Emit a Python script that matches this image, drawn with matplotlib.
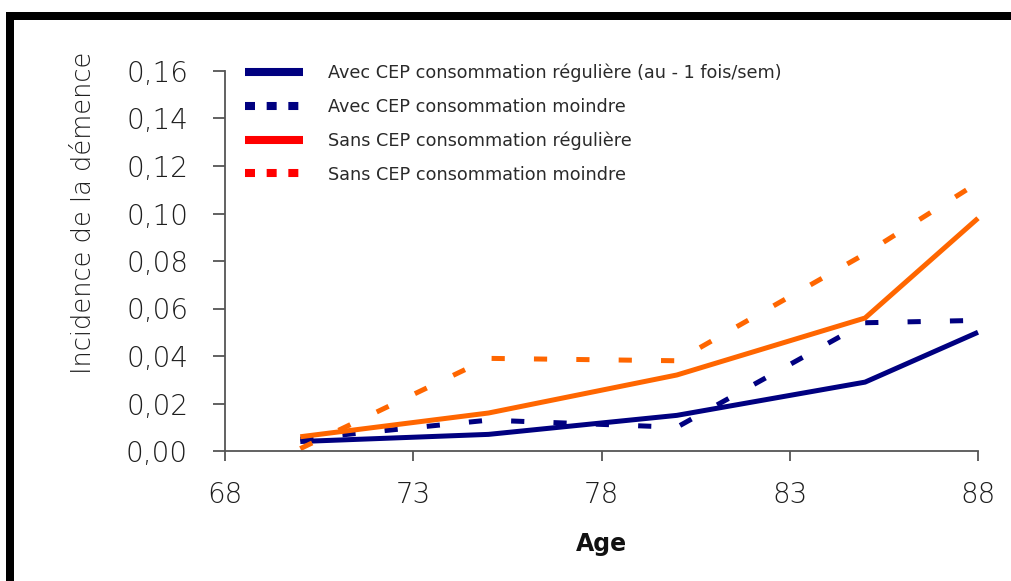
import matplotlib
matplotlib.use('Agg')
import matplotlib.pyplot as plt
from matplotlib.lines import Line2D
from matplotlib.patches import Rectangle

plt.rcParams['font.family'] = ['DejaVu Sans']
plt.rcParams['lines.scale_dashes'] = False

# data
ages = [70, 75, 80, 85, 88]
avec_reguliere = [0.004, 0.007, 0.015, 0.029, 0.050]
avec_moindre = [0.005, 0.013, 0.010, 0.054, 0.055]
sans_reguliere = [0.006, 0.016, 0.032, 0.056, 0.098]
sans_moindre = [0.001, 0.039, 0.038, 0.083, 0.113]

labels = ['Avec CEP consommation régulière (au - 1 fois/sem)',
          'Avec CEP consommation moindre',
          'Sans CEP consommation régulière',
          'Sans CEP consommation moindre']
x_ticks = [68, 73, 78, 83, 88]
y_ticks = [0, 0.02, 0.04, 0.06, 0.08, 0.10, 0.12, 0.14, 0.16]

navy = '#000080'
orange = '#FF6600'
red = '#FF0000'
txt = '#1e1e1e'
axcol = '#555555'

fig = plt.figure(figsize=(10.12, 5.81), dpi=100)
ax = fig.add_axes([225/1012, 1-451/581, (978-225)/1012, (451-71)/581])

dash = (9.5, 21)
ax.plot(ages, avec_reguliere, color=navy, lw=3.6, clip_on=False, solid_capstyle='butt')
ax.plot(ages, avec_moindre, color=navy, lw=3.6, dashes=dash, clip_on=False)
ax.plot(ages, sans_reguliere, color=orange, lw=3.6, clip_on=False, solid_capstyle='butt')
ax.plot(ages, sans_moindre, color=orange, lw=3.6, dashes=dash, clip_on=False)

ax.set_xlim(68, 88)
ax.set_ylim(0, 0.16)
ax.set_xticks(x_ticks)
ax.set_xticklabels([str(v) for v in x_ticks])
ax.set_yticks(y_ticks)
ax.set_yticklabels([('%.2f' % v).replace('.', ',') for v in y_ticks])

for s in ['top', 'right']:
    ax.spines[s].set_visible(False)
for s in ['left', 'bottom']:
    ax.spines[s].set_color(axcol)
    ax.spines[s].set_linewidth(1.3)
ax.tick_params(axis='y', direction='out', length=8.6, width=1.3, color=axcol,
               pad=18, labelsize=20, labelcolor=txt)
ax.tick_params(axis='x', direction='out', length=7.5, width=1.3, color=axcol,
               pad=14, labelsize=20, labelcolor=txt)
for t in ax.get_xticklabels() + ax.get_yticklabels():
    t.set_fontweight('light')

ax.set_xlabel('Age', fontsize=17, fontweight='bold', color='#111111', labelpad=17)
fig.text(84/1012, 1-213/581, 'Incidence de la démence', rotation=90,
         ha='center', va='center', fontsize=18.5, color=txt, fontweight='light')

handles = [Line2D([], [], color=navy, lw=5.8, solid_capstyle='butt'),
           Line2D([], [], color=navy, lw=5.8, dashes=(7.2, 8.4)),
           Line2D([], [], color=red, lw=5.8, solid_capstyle='butt'),
           Line2D([], [], color=red, lw=5.8, dashes=(7.2, 8.4))]
leg = fig.legend(handles, labels, loc='upper left',
                 bbox_to_anchor=(245/1012, 1-64/581), frameon=False,
                 fontsize=12.7, handlelength=3.3, handletextpad=1.4,
                 labelspacing=0.88, borderpad=0, borderaxespad=0)
for t in leg.get_texts():
    t.set_color('#2a2a2a')

# black frame around the picture (left and top edges visible)
fig.add_artist(Rectangle((6/1012, 0), 8/1012, (581-12)/581, transform=fig.transFigure,
                         color='black', lw=0))
fig.add_artist(Rectangle((6/1012, 1-20/581), 1, 8/581, transform=fig.transFigure,
                         color='black', lw=0))

fig.savefig('out.png', dpi=100)
